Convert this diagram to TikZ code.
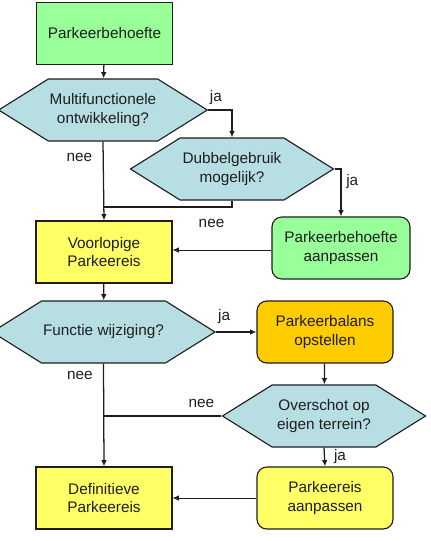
\documentclass[tikz,border=0pt]{standalone}
\usepackage{fontspec}
\setmainfont{Liberation Sans}
\usetikzlibrary{arrows.meta,positioning,calc,shapes.symbols}
\definecolor{ink}{HTML}{1E1E1E}
\definecolor{grn}{HTML}{99FF99}
\definecolor{cyn}{HTML}{B7DEE3}
\definecolor{ylw}{HTML}{FFFF66}
\definecolor{org}{HTML}{FFCC00}

\begin{document}
\begin{tikzpicture}[x=0.025cm, y=-0.025cm,
  font=\fontsize{10.9}{13}\selectfont, text=ink, >={Latex[length=4.5pt,width=4pt]},
  blk/.style={draw=ink, line width=0.8pt, fill=ylw, align=center, minimum width=3.4cm, minimum height=1.55cm, inner sep=2pt},
  rblk/.style={blk, rounded corners=7pt},
  hex/.style={draw=ink, line width=0.8pt, fill=cyn, align=center, shape=signal, signal to=east and west,
    signal pointer angle=64, minimum width=5.075cm, minimum height=1.55cm, inner sep=1pt},
  pw/.style={->, draw=ink, line width=0.9pt},
  ln/.style={draw=ink, line width=0.9pt},
  lbl/.style={font=\fontsize{10.9}{13}\selectfont}]
\useasboundingbox (0,0) rectangle (430,541);
% linker kolom
\node[blk, fill=grn] (pb) at (104.5,33.5) {Parkeerbehoefte};
\node[hex] (mf) at (103,110) {Multifunctionele\\ontwikkeling?};
\node[hex] (db) at (232,169) {Dubbelgebruik\\mogelijk?};
\node[blk] (vp) at (104,252) {Voorlopige\\Parkeereis};
\node[rblk, fill=grn, minimum width=3.45cm] (pba) at (341,248) {Parkeerbehoefte\\aanpassen};
\node[hex] (fw) at (103.5,332) {Functie wijziging?};
\node[rblk, fill=org] (pbl) at (325,332) {Parkeerbalans\\opstellen};
\node[hex] (ov) at (324,416) {Overschot op\\eigen terrein?};
\node[blk] (dp) at (104,498) {Definitieve\\Parkeereis};
\node[rblk] (pra) at (325,498) {Parkeereis\\aanpassen};
\coordinate (j1) at (104,207);
\coordinate (j2) at (104,416);
% verbindingen
\draw[pw] (pb) -- (mf);
\draw[pw] (mf.east) -| node[lbl, pos=0.16, above] {ja} (db.north);
\draw[pw] (db.east) -| node[lbl, pos=0.63, right] {ja} (pba.north);
\draw[pw] (mf.south) -- node[lbl, pos=0.2, left=4pt] {nee} (vp.north);
\draw[ln] (db.south) |- node[lbl, pos=0.58, below=5pt] {nee} (j1);
\draw[pw, line width=0.6pt] (pba.west |- 0,250) -- (vp.east |- 0,250);
\draw[pw] (vp) -- (fw);
\draw[pw] (fw.east) -- node[lbl, pos=0.2, above=2pt] {ja} (pbl.west);
\draw[pw] (pbl) -- (ov);
\draw[ln] (ov.west) -- node[lbl, pos=0.17, above=2pt] {nee} (j2);
\draw[pw] (fw.south) -- node[lbl, pos=0.12, left=4pt] {nee} (dp.north);
\draw[pw] (ov.south) -- node[lbl, right=3pt] {ja} (pra.north);
\draw[pw, line width=0.6pt] (pra) -- (dp);
\end{tikzpicture}
\end{document}
